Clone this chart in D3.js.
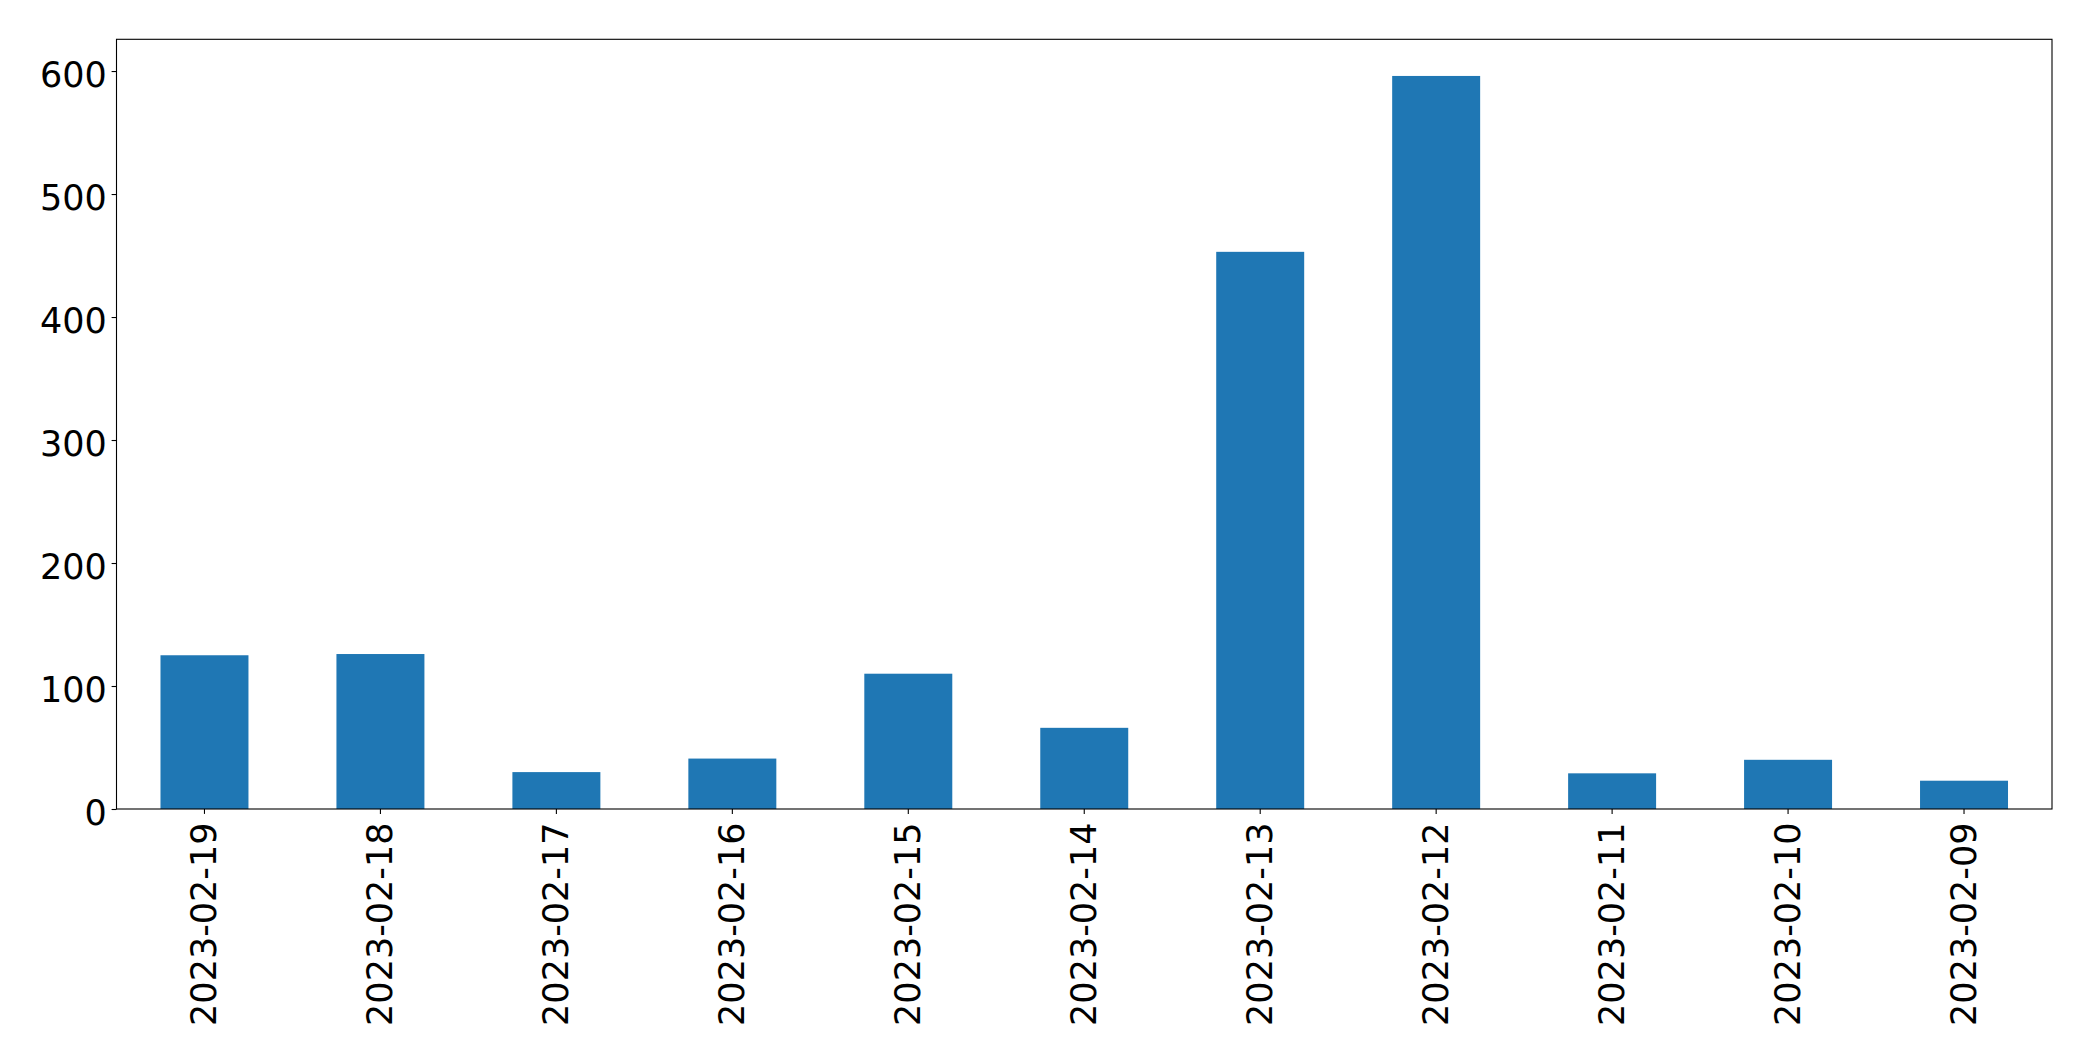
<!DOCTYPE html>
<html>
<head>
<meta charset="utf-8">
<script src="https://cdn.jsdelivr.net/npm/d3@7"></script>
<style>
  html, body { margin: 0; padding: 0; background: #fff; }
  svg { display: block; }
</style>
</head>
<body>
<svg id="chart" width="2093" height="1061"></svg>
<script>
const categories = ["2023-02-19","2023-02-18","2023-02-17","2023-02-16","2023-02-15","2023-02-14","2023-02-13","2023-02-12","2023-02-11","2023-02-10","2023-02-09"];
const values = [125, 126, 30, 41, 110, 66, 453, 596, 29, 40, 23];
const yTicks = [0, 100, 200, 300, 400, 500, 600];

const W = 2093, H = 1061;
const margin = {left: 116.5, right: W - 2052, top: 39.3, bottom: H - 809};
const fontSize = 35;

const svg = d3.select("#chart");
const g = svg.append("g");

const x = d3.scaleBand()
  .domain(categories)
  .range([margin.left, W - margin.right])
  .paddingInner(0.5)
  .paddingOuter(0.25);

const yMax = d3.max(values) * 1.05;
const y = d3.scaleLinear()
  .domain([0, yMax])
  .range([H - margin.bottom, margin.top]);

// bars
g.selectAll("rect.bar")
  .data(values)
  .enter().append("rect")
  .attr("class", "bar")
  .attr("x", (d, i) => x(categories[i]))
  .attr("width", x.bandwidth())
  .attr("y", d => y(d))
  .attr("height", d => y(0) - y(d))
  .attr("fill", "#1f77b4");

// y axis
const yAxis = d3.axisLeft(y).tickValues(yTicks).tickFormat(d3.format("d"))
  .tickSize(4.9).tickPadding(4.9);
const ya = g.append("g")
  .attr("transform", `translate(${margin.left},0)`)
  .call(yAxis);
ya.select(".domain").remove();
ya.selectAll(".tick line").attr("stroke", "#000").attr("stroke-width", 1.1);
ya.selectAll(".tick text")
  .attr("font-family", "DejaVu Sans")
  .attr("font-size", fontSize)
  .attr("fill", "#000")
  .attr("dy", "0.44em");

// x axis
const xAxis = d3.axisBottom(x).tickSize(4.9).tickPadding(0);
const xa = g.append("g")
  .attr("transform", `translate(0,${H - margin.bottom})`)
  .call(xAxis);
xa.select(".domain").remove();
xa.selectAll(".tick line").attr("stroke", "#000").attr("stroke-width", 1.1);
xa.selectAll(".tick text")
  .attr("font-family", "DejaVu Sans")
  .attr("font-size", fontSize)
  .attr("fill", "#000")
  .attr("text-anchor", "end")
  .attr("x", 0)
  .attr("y", 0)
  .attr("dy", "0.34em")
  .attr("transform", "translate(0,13.5) rotate(-90)");

// frame
g.append("rect")
  .attr("x", margin.left)
  .attr("y", margin.top)
  .attr("width", W - margin.right - margin.left)
  .attr("height", H - margin.bottom - margin.top)
  .attr("fill", "none")
  .attr("stroke", "#000")
  .attr("stroke-width", 1.1);
</script>
</body>
</html>
